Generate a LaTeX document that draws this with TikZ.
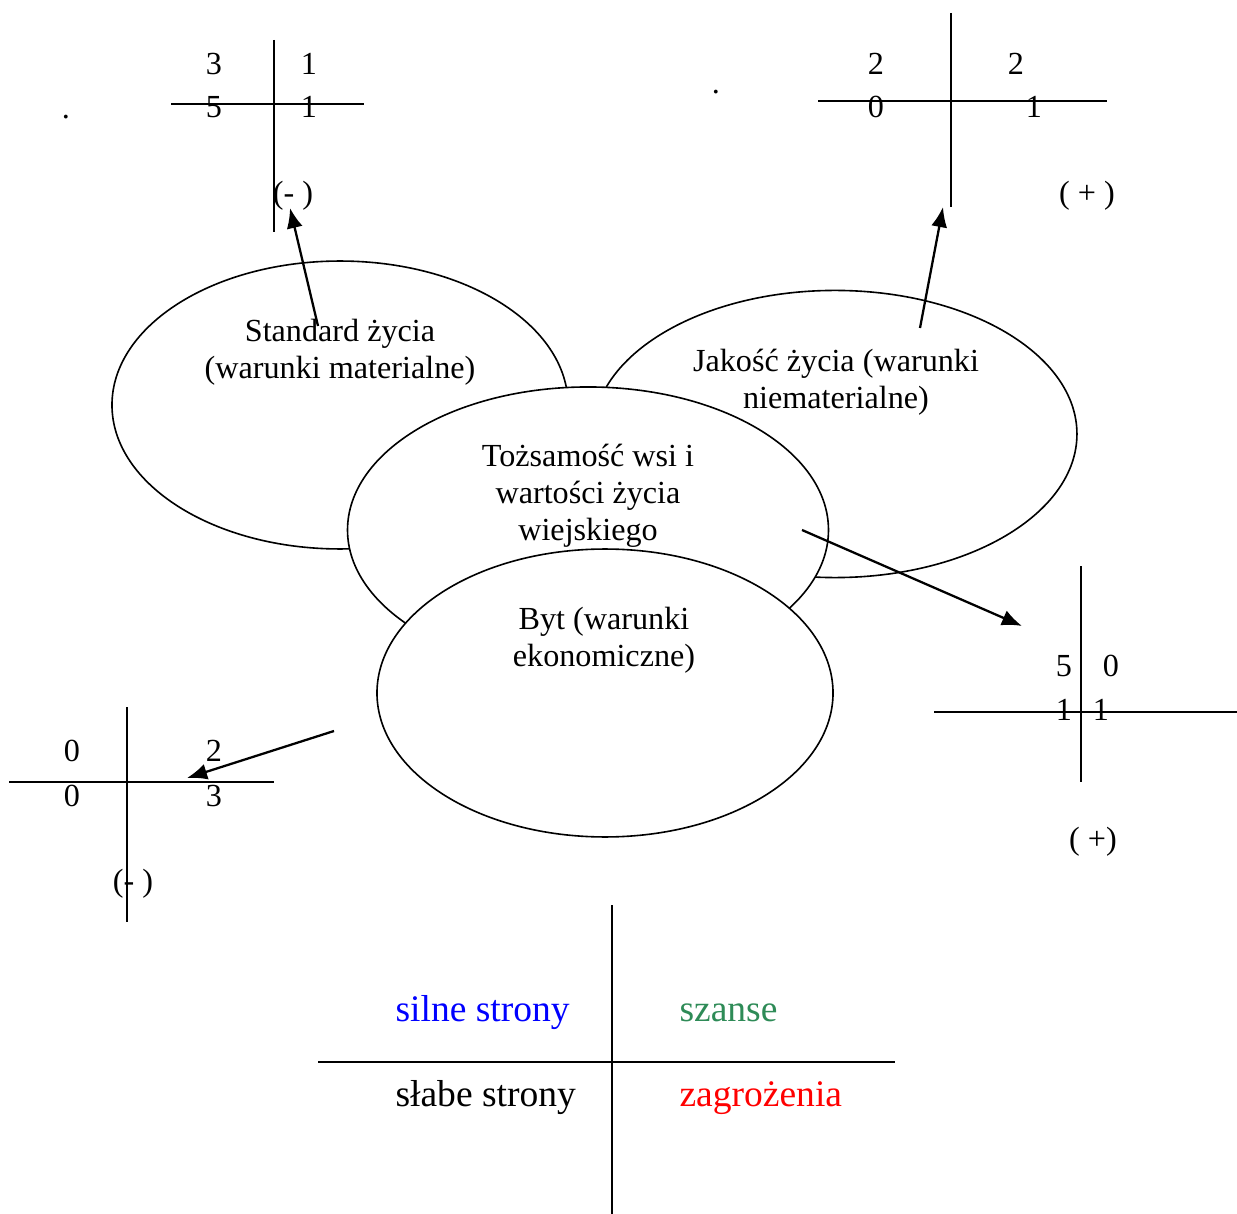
\documentclass[tikz,border=0pt]{standalone}
\usepackage{fontspec}
\setmainfont{Liberation Serif}
\usetikzlibrary{arrows.meta, shapes.geometric}
\definecolor{seagreen}{RGB}{46,139,87}

\begin{document}
\begin{tikzpicture}[x=0.373pt, y=-0.373pt,
	blob/.style={draw, ellipse, fill=white, line width=0.6pt, inner sep=0pt},
	txt/.style={align=center, font=\fontsize{12}{13.8}\selectfont, inner sep=0pt},
	big/.style={anchor=base west, font=\fontsize{14}{16}\selectfont, inner sep=0pt},
	axis/.style={line width=0.85pt},
	arr/.style={-{Latex[length=7.5pt,width=6pt]}, line width=0.85pt}]
	\useasboundingbox (0,0) rectangle (1237,1214);

	\node[blob, minimum width=170.1pt, minimum height=107.4pt] (std) at (340,405) {};
	\node[blob, minimum width=180.5pt, minimum height=107.1pt] (jak) at (835,434) {};
	\node[blob, minimum width=179.4pt, minimum height=106.7pt] (toz) at (588,530) {};
	\node[blob, minimum width=170.1pt, minimum height=107.4pt] (byt) at (605,693) {};

	\node[txt] (stdT) at (340,352) {Standard życia\\(warunki materialne)};
	\node[txt] (jakT) at (836,382) {Jakość życia (warunki\\niematerialne)};
	\node[txt] (tozT) at (588,496) {Tożsamość wsi i\\wartości życia\\wiejskiego};
	\node[txt] (bytT) at (604,640) {Byt (warunki\\ekonomiczne)};

	\draw[axis] (274,40) -- (274,232);
	\draw[axis] (171,104) -- (364,104);
	\node[txt] (a1) at (214,64) {3};
	\node[txt] (a2) at (309,64) {1};
	\node[txt] (a3) at (214,107) {5};
	\node[txt] (a4) at (309,107) {1};
	\node[txt] (aS) at (293,196) {(- )};

	\draw[axis] (951,13) -- (951,207);
	\draw[axis] (818,101) -- (1107,101);
	\node[txt] (b1) at (876,64) {2};
	\node[txt] (b2) at (1016,64) {2};
	\node[txt] (b3) at (876,107) {0};
	\node[txt] (b4) at (1034,107) {1};
	\node[txt] (bS) at (1087,196) {( + )};

	\draw[axis] (1081,566) -- (1081,782);
	\draw[axis] (934,712) -- (1237,712);
	\node[txt] (c1) at (1064,666) {5};
	\node[txt] (c2) at (1111,666) {0};
	\node[txt] (c3) at (1064,710) {1};
	\node[txt] (c4) at (1101,710) {1};
	\node[txt] (cS) at (1093,842) {( +)};

	\draw[axis] (127,707) -- (127,922);
	\draw[axis] (9,782) -- (274,782);
	\node[txt] (d1) at (72,751) {0};
	\node[txt] (d2) at (214,751) {2};
	\node[txt] (d3) at (72,796) {0};
	\node[txt] (d4) at (214,796) {3};
	\node[txt] (dS) at (133,884) {(- )};

	\node[txt] (dotA) at (66,117) {.};
	\node[txt] (dotB) at (716,92) {.};

	\coordinate (stdA) at (318,326);
	\coordinate (aTip) at (290,208);
	\coordinate (jakA) at (920,328);
	\coordinate (bTip) at (943,207);
	\coordinate (tozA) at (802,530);
	\coordinate (cTip) at (1022,626);
	\coordinate (bytA) at (334,731);
	\coordinate (dTip) at (187,778);
	\draw[arr] (stdA) -- (aTip);
	\draw[arr] (jakA) -- (bTip);
	\draw[arr] (tozA) -- (cTip);
	\draw[arr] (bytA) -- (dTip);

	\draw[axis] (612,905) -- (612,1214);
	\draw[axis] (318,1062) -- (895,1062);
	\node[big, text=blue] (sw) at (395,1021) {silne strony};
	\node[big, text=seagreen] (op) at (679,1021) {szanse};
	\node[big] (wk) at (395,1106) {słabe strony};
	\node[big, text=red] (th) at (679,1106) {zagrożenia};
\end{tikzpicture}
\end{document}
